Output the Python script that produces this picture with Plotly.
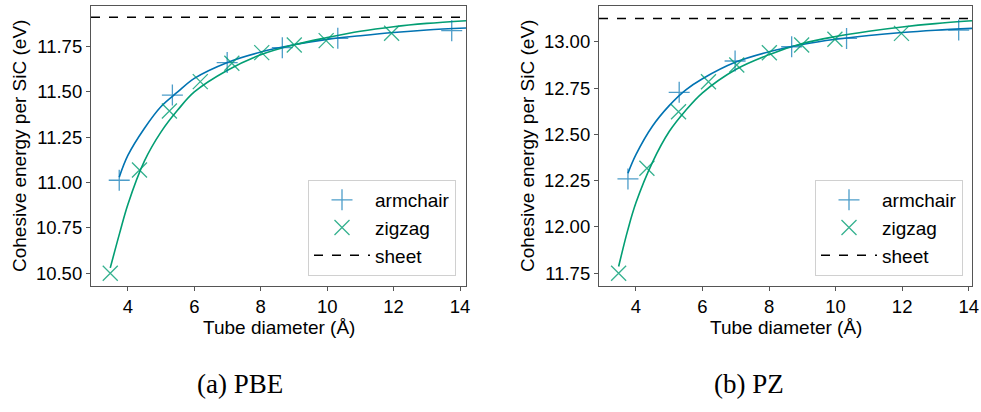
import plotly.graph_objects as go
from plotly.subplots import make_subplots

# ---------------- data ----------------
# (a) PBE
pbe_arm_d = [3.74, 5.34, 6.99, 8.65, 10.32, 13.75]
pbe_arm_e = [11.013, 11.483, 11.662, 11.744, 11.796, 11.838]
pbe_zig_d = [3.47, 4.35, 5.25, 6.18, 7.13, 8.03, 9.01, 9.97, 11.94]
pbe_zig_e = [10.50, 11.07, 11.395, 11.557, 11.658, 11.717, 11.759, 11.783, 11.824]
pbe_arm_fit_d = [3.74, 4.0, 4.5, 5.0, 5.5, 6.0, 7.0, 8.0, 9.0, 10.0, 11.0, 12.0, 13.0, 14.18]
pbe_arm_fit_e = [11.03, 11.15, 11.30, 11.42, 11.50, 11.575, 11.663, 11.72, 11.76, 11.79, 11.81, 11.828, 11.842, 11.853]
pbe_zig_fit_d = [3.47, 3.75, 4.0, 4.5, 5.0, 5.5, 6.0, 7.0, 8.0, 9.0, 10.0, 11.0, 12.0, 13.0, 14.18]
pbe_zig_fit_e = [10.53, 10.72, 10.88, 11.12, 11.28, 11.40, 11.50, 11.62, 11.705, 11.76, 11.80, 11.835, 11.86, 11.878, 11.893]
pbe_sheet = 11.912

# (b) PZ
pz_arm_d = [3.76, 5.30, 6.98, 8.68, 10.33, 13.70]
pz_arm_e = [12.259, 12.727, 12.896, 12.973, 13.018, 13.063]
pz_zig_d = [3.48, 4.33, 5.28, 6.18, 7.03, 8.01, 8.98, 9.98, 11.98]
pz_zig_e = [11.75, 12.317, 12.622, 12.784, 12.874, 12.941, 12.982, 13.013, 13.045]
pz_arm_fit_d = [3.76, 4.0, 4.5, 5.0, 5.5, 6.0, 7.0, 8.0, 9.0, 10.0, 11.0, 12.0, 13.0, 14.1]
pz_arm_fit_e = [12.29, 12.39, 12.545, 12.655, 12.74, 12.80, 12.89, 12.946, 12.985, 13.013, 13.034, 13.05, 13.062, 13.072]
pz_zig_fit_d = [3.48, 3.75, 4.0, 4.5, 5.0, 5.5, 6.0, 7.0, 8.0, 9.0, 10.0, 11.0, 12.0, 13.0, 14.1]
pz_zig_fit_e = [11.786, 11.98, 12.13, 12.35, 12.515, 12.63, 12.724, 12.85, 12.93, 12.99, 13.028, 13.057, 13.08, 13.098, 13.113]
pz_sheet = 13.126

x_ticks = [4, 6, 8, 10, 12, 14]
pbe_y_ticks = [10.50, 10.75, 11.00, 11.25, 11.50, 11.75]
pz_y_ticks = [11.75, 12.00, 12.25, 12.50, 12.75, 13.00]
pbe_xrange = [2.89, 14.18]
pz_xrange = [2.89, 14.1]
pbe_yrange = [10.43, 11.974]
pz_yrange = [11.681, 13.193]

captions = ["(a) PBE", "(b) PZ"]
# ----------------------------------------------------------------

BLUE = "#0173B2"
GREEN = "#029E73"
BLUE_M = "rgba(1,115,178,0.7)"
GREEN_M = "rgba(2,158,115,0.8)"
FONT = "Liberation Sans, Arial, sans-serif"
FS = 18.5

fig = make_subplots(rows=1, cols=2)

panels = [
    (1, "legend", pbe_arm_d, pbe_arm_e, pbe_zig_d, pbe_zig_e, pbe_arm_fit_d, pbe_arm_fit_e,
     pbe_zig_fit_d, pbe_zig_fit_e, pbe_sheet, pbe_xrange),
    (2, "legend2", pz_arm_d, pz_arm_e, pz_zig_d, pz_zig_e, pz_arm_fit_d, pz_arm_fit_e,
     pz_zig_fit_d, pz_zig_fit_e, pz_sheet, pz_xrange),
]

for (col, leg, ad, ae, zd, ze, afd, afe, zfd, zfe, sheet, xr) in panels:
    fig.add_trace(go.Scatter(x=afd, y=afe, mode="lines", line=dict(color=BLUE, width=1.6, shape="spline"),
                             showlegend=False, hoverinfo="skip"), row=1, col=col)
    fig.add_trace(go.Scatter(x=zfd, y=zfe, mode="lines", line=dict(color=GREEN, width=1.6, shape="spline"),
                             showlegend=False, hoverinfo="skip"), row=1, col=col)
    fig.add_trace(go.Scatter(x=ad, y=ae, mode="markers", name="armchair", legend=leg,
                             marker=dict(symbol="cross-thin", size=15, line=dict(color=BLUE_M, width=1.3))),
                  row=1, col=col)
    fig.add_trace(go.Scatter(x=zd, y=ze, mode="markers", name="zigzag", legend=leg,
                             marker=dict(symbol="x-thin", size=15, line=dict(color=GREEN_M, width=1.3))),
                  row=1, col=col)
    fig.add_trace(go.Scatter(x=xr, y=[sheet, sheet], mode="lines", name="sheet", legend=leg,
                             line=dict(color="black", width=1.5, dash="dash")), row=1, col=col)

axis_common = dict(showgrid=False, zeroline=False, showline=True, mirror=True, linecolor="#555555",
                   linewidth=1.2, ticks="outside", ticklen=4, tickwidth=1, tickcolor="#555555",
                   automargin=False,
                   tickfont=dict(family=FONT, size=FS, color="black"))

fig.update_xaxes(**axis_common, tickvals=x_ticks, ticktext=[str(t) for t in x_ticks])
fig.update_xaxes(range=pbe_xrange, domain=[91 / 981, 466 / 981], row=1, col=1)
fig.update_xaxes(range=pz_xrange, domain=[599 / 981, 972 / 981], row=1, col=2)
fig.update_yaxes(**axis_common)
fig.update_yaxes(range=pbe_yrange, tickvals=pbe_y_ticks, ticktext=[f"{v:.2f}" for v in pbe_y_ticks],
                 domain=[1 - 286 / 412, 1 - 6 / 412], row=1, col=1)
fig.update_yaxes(range=pz_yrange, tickvals=pz_y_ticks, ticktext=[f"{v:.2f}" for v in pz_y_ticks],
                 domain=[1 - 286 / 412, 1 - 6 / 412], row=1, col=2)

legend_style = dict(bgcolor="white", bordercolor="#d0d0d0", borderwidth=1,
                    font=dict(family=FONT, size=19, color="black"),
                    xanchor="right", yanchor="bottom", y=1 - 276 / 412, tracegroupgap=0,
                    itemwidth=56)

fig.update_layout(
    width=981, height=412,
    margin=dict(l=0, r=0, t=0, b=0, autoexpand=False),
    paper_bgcolor="white", plot_bgcolor="white",
    font=dict(family=FONT, size=FS, color="black"),
    legend=dict(**legend_style, x=456 / 981),
    legend2=dict(**legend_style, x=963 / 981),
)

ann = []
for cx, ytitle_x, cap_x, cap in [(278.5, 19, 240, captions[0]), (785.5, 527, 749, captions[1])]:
    ann.append(dict(text="Tube diameter (Å)", x=cx / 981, y=1 - 327 / 412, xref="paper", yref="paper",
                    showarrow=False, xanchor="center", yanchor="middle",
                    font=dict(family=FONT, size=FS + 0.5, color="black")))
    ann.append(dict(text="Cohesive energy per SiC (eV)", x=ytitle_x / 981, y=1 - 146 / 412, xref="paper",
                    yref="paper", showarrow=False, textangle=-90, xanchor="center", yanchor="middle",
                    font=dict(family=FONT, size=FS + 0.5, color="black")))
    ann.append(dict(text=cap, x=cap_x / 981, y=1 - 384 / 412, xref="paper", yref="paper",
                    showarrow=False, xanchor="center", yanchor="middle",
                    font=dict(family="Liberation Serif, Times New Roman, serif", size=27, color="black")))
fig.update_layout(annotations=ann)

fig.write_html("out.html", config={"displayModeBar": False},
               post_script="document.body.style.margin='0';document.body.style.padding='0';")
